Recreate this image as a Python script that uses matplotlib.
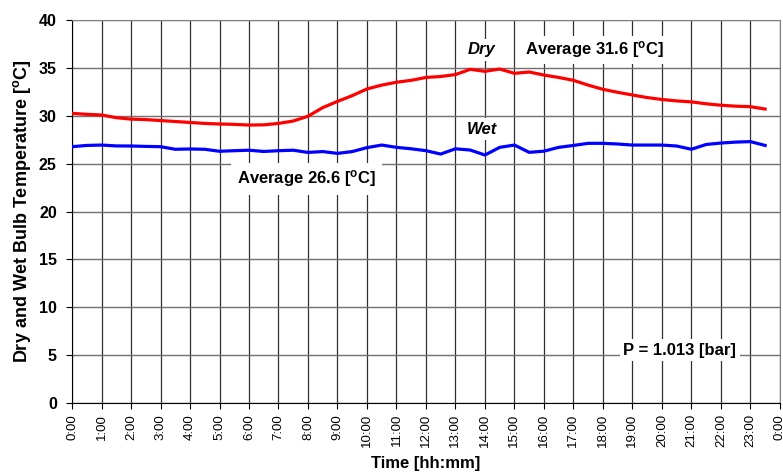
import matplotlib
matplotlib.use("Agg")
import matplotlib.pyplot as plt

plt.rcParams['font.family'] = ['Liberation Sans', 'DejaVu Sans']
plt.rcParams['mathtext.default'] = 'regular'

# half-hourly readings, hours from midnight
hours = [i * 0.5 for i in range(48)]
dry = [30.25, 30.15, 30.08, 29.8, 29.65, 29.6, 29.5, 29.4, 29.3, 29.2,
       29.14, 29.1, 29.03, 29.05, 29.2, 29.45, 29.95, 30.85, 31.5, 32.1,
       32.8, 33.2, 33.5, 33.7, 34.0, 34.1, 34.3, 34.85, 34.64, 34.88,
       34.43, 34.57, 34.25, 34.0, 33.7, 33.2, 32.76, 32.45, 32.17, 31.9,
       31.7, 31.55, 31.45, 31.25, 31.1, 31.0, 30.95, 30.7]
wet = [26.77, 26.9, 26.94, 26.85, 26.84, 26.8, 26.77, 26.5, 26.53, 26.5,
       26.29, 26.35, 26.4, 26.27, 26.35, 26.4, 26.17, 26.26, 26.07, 26.26,
       26.67, 26.94, 26.7, 26.55, 26.35, 26.0, 26.55, 26.42, 25.9, 26.7,
       26.94, 26.18, 26.3, 26.7, 26.9, 27.12, 27.12, 27.05, 26.94, 26.94,
       26.94, 26.84, 26.5, 27.0, 27.15, 27.25, 27.3, 26.9]
tick_hours = list(range(25))
tick_labels = [f"{h % 24}:00" for h in tick_hours]
dry_avg = 31.6
wet_avg = 26.6
pressure = 1.013

fig = plt.figure(figsize=(7.83, 4.72), dpi=100)
ax = fig.add_axes([0.092, 0.1462, 0.904, 0.8114])

ax.plot(hours, dry, color='#ff0000', lw=2.3, zorder=3)
ax.plot(hours, wet, color='#0000ff', lw=2.3, zorder=3)

ax.set_xlim(0, 24)
ax.set_ylim(0, 40)
ax.set_xticks(tick_hours)
ax.set_xticklabels(tick_labels, rotation=90, fontsize=9.5)
ax.set_yticks(range(0, 41, 5))
ax.tick_params(axis='y', labelsize=11.5, length=4, width=0.8, pad=7)
ax.tick_params(axis='x', length=4, width=0.8, pad=4)
for lab in ax.get_yticklabels():
    lab.set_fontweight('bold')

ax.xaxis.grid(True, color='#303030', lw=0.9)
ax.yaxis.grid(True, color='#707070', lw=1.0)
ax.set_axisbelow(True)
for side in ('top', 'right'):
    ax.spines[side].set_color('#808080')
for side in ('left', 'bottom'):
    ax.spines[side].set_color('black')

ax.set_xlabel('Time [hh:mm]', fontsize=12, fontweight='bold', labelpad=6)
ax.set_ylabel('Dry and Wet Bulb Temperature [$^{o}$C]', fontsize=13,
              fontweight='bold', labelpad=4)

box = dict(facecolor='white', edgecolor='none', pad=2.5)
ax.text(13.9, 36.9, 'Dry', fontsize=12, fontweight='bold', style='italic',
        ha='center', va='center', bbox=box, zorder=4)
ax.text(17.7, 36.9, f'Average {dry_avg} [$^{{o}}$C]', fontsize=12,
        fontweight='bold', ha='center', va='center', bbox=box, zorder=4)
ax.text(13.9, 28.6, 'Wet', fontsize=12, fontweight='bold', style='italic',
        ha='center', va='center', bbox=box, zorder=4)
ax.text(7.95, 23.4, f'Average {wet_avg} [$^{{o}}$C]', fontsize=12,
        fontweight='bold', ha='center', va='center',
        bbox=dict(facecolor='white', edgecolor='none', pad=4), zorder=4)
ax.text(20.6, 5.5, f'P = {pressure} [bar]', fontsize=12, fontweight='bold',
        ha='center', va='center', bbox=box, zorder=4)

fig.savefig('out.png', dpi=100)
